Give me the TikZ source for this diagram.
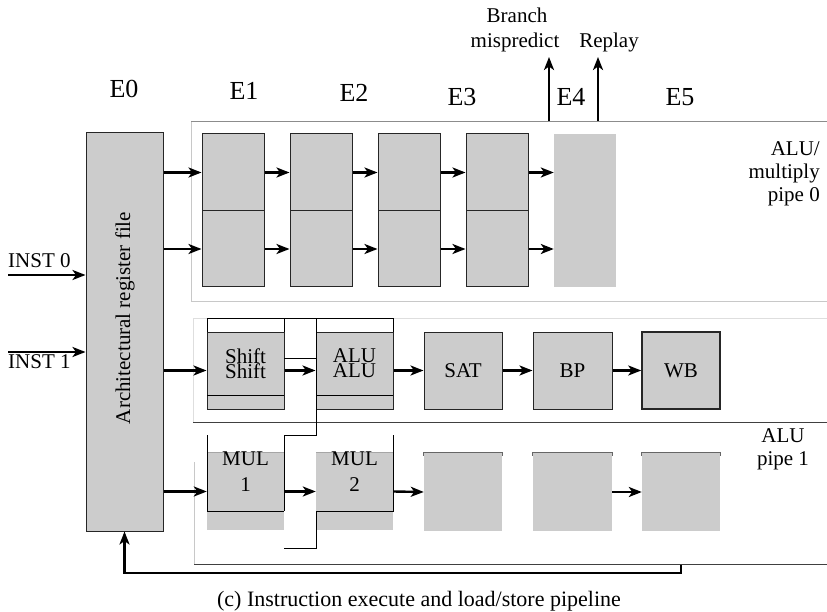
\documentclass[tikz,border=0pt]{standalone}
\usepackage{fontspec}
\setmainfont{Liberation Serif}
\usetikzlibrary{arrows.meta}
\definecolor{boxgray}{HTML}{CCCCCC}
\definecolor{framelight}{HTML}{C8C8C8}
\definecolor{framemid}{HTML}{8C8C8C}
\definecolor{framedark}{HTML}{404040}
\begin{document}
\begin{tikzpicture}[x=1pt,y=-1pt,
  blk/.style={draw=black!85, fill=boxgray, line width=1pt, inner sep=0pt},
  plainblk/.style={fill=boxgray, inner sep=0pt},
  arr/.style={line width=2.4pt, -{Stealth[length=13pt,width=10pt,inset=3.5pt]}},
  ln/.style={draw=black, line width=1pt},
  lbl/.style={font=\fontsize{21}{23}\selectfont, inner sep=0pt},
  stage/.style={font=\fontsize{26}{28}\selectfont, inner sep=0pt, anchor=base},
  topedge/.style={draw=black!60, line width=1pt},
]
\useasboundingbox (0,0) rectangle (827,612);

% ---- pipe frames ----
\draw[framelight, line width=0.8pt] (191,121) -- (191,301) -- (830,301);
\draw[framemid, line width=0.9pt] (191,121) -- (830,121);
\draw[framelight!60, line width=0.8pt] (830,318) -- (193,318) -- (193,422);
\draw[framedark, line width=0.9pt] (193,422) -- (830,422);
\draw[framelight, line width=0.8pt] (194,462) -- (194,564);
\draw[framedark, line width=0.9pt] (194,564) -- (830,564);

% ---- stage labels ----
\node[stage] (e0) at (124,98) {E0};
\node[stage] (e1) at (244,100) {E1};
\node[stage] (e2) at (354,102) {E2};
\node[stage] (e3) at (462,106) {E3};
\node[stage] (e4) at (571,106) {E4};
\node[stage] (e5) at (680,106) {E5};

% ---- register file ----
\node[blk, minimum width=77pt, minimum height=398pt] (rf) at (124.5,332) {};
\node[lbl, rotate=90] (rftxt) at (125,318) {Architectural register file};

% ---- INST inputs ----
\node[lbl, anchor=base west] (i0) at (8,268) {INST 0};
\node[lbl, anchor=base west] (i1) at (8,368) {INST 1};
\coordinate (i0s) at (8,275);
\coordinate (i1s) at (8,352);
\draw[arr] (i0s) -- (rf.west |- i0s);
\draw[arr] (i1s) -- (rf.west |- i1s);

% ---- pipe 0 ----
\foreach \n/\x in {1/233,2/321,3/409,4/497}{
  \node[blk, minimum width=62pt, minimum height=77pt] (a\n t) at (\x,172.5) {};
  \node[blk, minimum width=62pt, minimum height=76pt] (a\n b) at (\x,249) {};
}
\node[plainblk, minimum width=62pt, minimum height=153pt] (a5) at (585,210.5) {};
\draw[arr] (rf.east |- a1t.west) -- (a1t.west);
\draw[arr] (rf.east |- a1b.west) -- (a1b.west);
\foreach \p/\q in {1/2,2/3,3/4}{
  \draw[arr] (a\p t.east) -- (a\q t.west);
  \draw[arr] (a\p b.east) -- (a\q b.west);
}
\draw[arr] (a4t.east) -- (a5.west |- a4t.east);
\draw[arr] (a4b.east) -- (a5.west |- a4b.east);

\node[lbl, align=right, anchor=east] (p0lbl) at (820,174) {ALU/\\multiply\\pipe 0};

% ---- branch / replay ----
\coordinate (bmb) at (549,121);
\coordinate (bmt) at (549,57);
\coordinate (rpb) at (598,121);
\coordinate (rpt) at (598,57);
\draw[arr] (bmb) -- (bmt);
\draw[arr] (rpb) -- (rpt);
\node[lbl, anchor=base] (br1) at (517,23) {Branch};
\node[lbl, anchor=base] (br2) at (515,48) {mispredict};
\node[lbl, anchor=base] (rp) at (609,48) {Replay};

% ---- middle pipe ----
\node[blk, minimum width=77pt, minimum height=77pt] (shift) at (245.5,370.5) {};
\node[blk, minimum width=77pt, minimum height=77pt] (alu) at (354.5,370.5) {};
\node[blk, minimum width=78pt, minimum height=77pt] (sat) at (463,370.5) {};
\node[blk, minimum width=79pt, minimum height=77pt] (bp) at (572.5,370.5) {};
\node[blk, line width=1.5pt, minimum width=78pt, minimum height=77pt] (wb) at (681,370.5) {};
\node[lbl] (sh1) at (245.5,356) {Shift};
\node[lbl] (sh2) at (245.5,371) {Shift};
\node[lbl] (al1) at (354.5,356) {ALU};
\node[lbl] (al2) at (354.5,371) {ALU};
\node[lbl] (sattxt) at (sat.center) {SAT};
\node[lbl] (bptxt) at (bp.center) {BP};
\node[lbl] (wbtxt) at (wb.center) {WB};

\draw[ln] (207,318) -- (393,318);
\draw[ln] (207,318) -- (207,332);
\draw[ln] (284,318) -- (284,332);
\draw[ln] (393,318) -- (393,332);
\draw[ln] (207,395) -- (284,395);
\draw[ln] (316,395) -- (393,395);
\draw[ln] (284,358) -- (316,358);
\draw[ln] (316,318) -- (316,435) -- (284,435) -- (284,511);

\draw[arr] (rf.east |- shift.west) -- (shift.west);
\draw[arr] (shift.east) -- (alu.west);
\draw[arr] (alu.east) -- (sat.west);
\draw[arr] (sat.east) -- (bp.west);
\draw[arr] (bp.east) -- (wb.west);

% ---- pipe 1 ----
\node[plainblk, minimum width=77pt, minimum height=77pt] (mul1) at (245.5,491.5) {};
\node[plainblk, minimum width=77pt, minimum height=77pt] (mul2) at (354.5,491.5) {};
\node[plainblk, minimum width=78pt, minimum height=78pt] (p1a) at (463,492) {};
\node[plainblk, minimum width=79pt, minimum height=78pt] (p1b) at (572.5,492) {};
\node[plainblk, minimum width=78pt, minimum height=78pt] (p1c) at (681,492) {};
\draw[black!35, line width=0.8pt] (mul1.north west) -- (mul1.north east);
\draw[black!35, line width=0.8pt] (mul2.north west) -- (mul2.north east);
\foreach \b in {p1a,p1b,p1c}{
  \draw[topedge] ([yshift=-3pt]\b.north west) -- (\b.north west) -- (\b.north east) -- ([yshift=-3pt]\b.north east);
}
\node[lbl] (m1a) at (245.5,459) {MUL};
\node[lbl] (m1b) at (245.5,484.5) {1};
\node[lbl] (m2a) at (354.5,459) {MUL};
\node[lbl] (m2b) at (354.5,484.5) {2};

\draw[ln] (207,435) -- (207,511) -- (284,511);
\draw[ln] (393,435) -- (393,511) -- (316,511) -- (316,548) -- (284,548);

\draw[arr] (rf.east |- mul1.west) -- (mul1.west);
\draw[arr] (mul1.east) -- (mul2.west);
\draw[arr] (mul2.east) -- (p1a.west);
\draw[arr] (p1b.east) -- (p1c.west);

\node[lbl, align=center] (p1lbl) at (783,449.5) {ALU\\pipe 1};

% ---- feedback ----
\coordinate (fbs) at (681,565);
\draw[line width=2.4pt, -{Stealth[length=13pt,width=10pt,inset=3.5pt]}] (fbs) -- (681,573) -| (rf.south);

% ---- caption ----
\node[lbl, font=\fontsize{22}{24}\selectfont, anchor=base] (cap) at (419,606) {(c) Instruction execute and load/store pipeline};
\end{tikzpicture}
\end{document}
